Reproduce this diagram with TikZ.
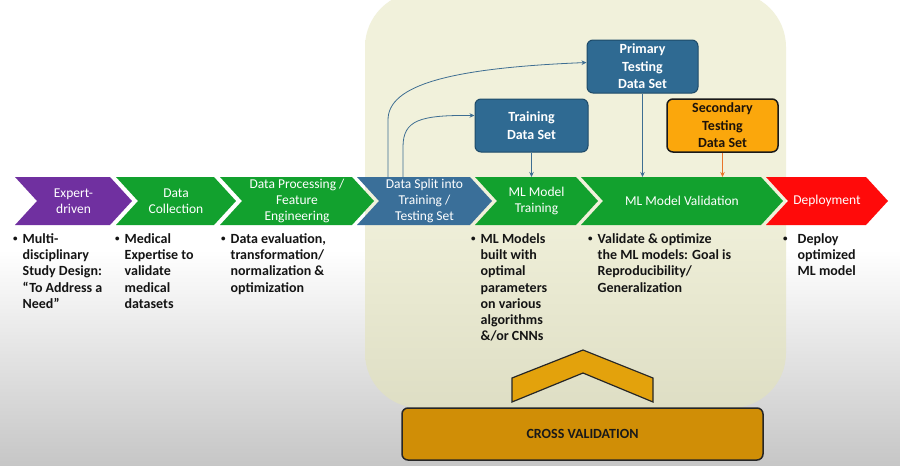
\documentclass[tikz,border=0pt]{standalone}
\usepackage{fontspec}
\setmainfont{Carlito}
\usetikzlibrary{arrows.meta,calc}
\definecolor{purp}{HTML}{7030A0}
\definecolor{grn}{HTML}{12A12E}
\definecolor{blu}{HTML}{3A6F99}
\definecolor{boxblu}{HTML}{2F6A92}
\definecolor{boxbord}{HTML}{1E4A68}
\definecolor{redd}{HTML}{FF0A0A}
\definecolor{panel}{HTML}{F1F1DB}
\definecolor{panelb}{HTML}{DEDEC4}
\definecolor{orng}{HTML}{FBA70C}
\definecolor{gold}{HTML}{E3A20C}
\definecolor{cvfill}{HTML}{D08E06}
\definecolor{arrblu}{HTML}{3E6E92}
\definecolor{arror}{HTML}{E8742A}
\definecolor{bggray}{HTML}{C6C6C6}
\newcommand\smallbul{\raisebox{2.2pt}{\fontsize{9}{9}\selectfont\textbullet}}
\newcommand\blist[2][5pt]{\begin{tabular}[t]{@{}l@{\hspace{#1}}l@{}}\smallbul & #2\end{tabular}}
\tikzset{
  ctext/.style={text=white, align=center, inner sep=0pt, font=\fontsize{13.5}{16}\selectfont},
  bl/.style={anchor=north west, inner sep=0pt, text=black!92, font=\bfseries\fontsize{14}{16.2}\selectfont},
  dbox/.style={draw=boxbord, line width=1pt, fill=boxblu, rounded corners=6pt, text=white, align=center,
    font=\bfseries\fontsize{14}{17.5}\selectfont, minimum height=53pt, inner sep=0pt},
  arr/.style={draw=arrblu, line width=0.8pt, -{Stealth[length=5pt,width=4.5pt]}}
}
\begin{document}
\begin{tikzpicture}[x=1pt,y=-1pt]
\useasboundingbox (0,0) rectangle (900,466);
% background
\fill[white] (0,0) rectangle (900,250);
\shade[top color=white, bottom color=bggray] (0,249.5) rectangle (900,466);
% panel
\shade[top color=panel, bottom color=panelb, middle color=panel, rounded corners=55pt] (365,-8) rectangle (786,408);
% chevrons
\foreach \L/\R/\c in {15/110/purp,116/214/grn,220/352/grn,357/470/blu,475/576/grn,581/761/grn,766/866/redd}{
  \fill[\c] (\L,177) -- (\R,177) -- ++(22,24) -- ++(-22,24) -- (\L,225) -- ++(22,-24) -- cycle;
}
\node[ctext] (c1) at (73.5,201) {Expert-\\driven};
\node[ctext] (c2) at (176,201) {Data\\Collection};
\node[ctext] (c3) at (297,201) {Data Processing /\\Feature\\Engineering};
\node[ctext] (c4) at (424.5,201) {Data Split into\\Training /\\Testing Set};
\node[ctext] (c5) at (536.5,201) {ML Model\\Training};
\node[ctext] (c6) at (682,201) {ML Model Validation};
\node[ctext] (c7) at (827,201) {Deployment};
% tops of chevrons
\coordinate (s1) at (388,177);
\coordinate (s2) at (403,177);
\coordinate (t5) at (536,177);
\coordinate (t6) at (682,177);
% bullet texts
\node[bl] (b1) at (13,232) {\blist{Multi-\\ & disciplinary\\ & Study Design:\\ & “To Address a\\ & Need”}};
\node[bl] (b2) at (115,232) {\blist{Medical\\ & Expertise to\\ & validate\\ & medical\\ & datasets}};
\node[bl] (b3) at (221,232) {\blist{Data evaluation,\\ & transformation/\\ & normalization \&\\ & optimization}};
\node[bl] (b5) at (471,232) {\blist{ML Models\\ & built with\\ & optimal\\ & parameters\\ & on various\\ & algorithms\\ & \&/or CNNs}};
\node[bl] (b6) at (588,232) {\blist{Validate \& optimize\\ & the ML models: Goal is\\ & Reproducibility/\\ & Generalization}};
\node[bl] (b7) at (783,232) {\blist[10pt]{Deploy\\ & optimized\\ & ML model}};
% data set boxes
\node[dbox, minimum width=111pt] (prim) at (642.5,66.5) {Primary\\Testing\\Data Set};
\node[dbox, minimum width=113pt, font=\bfseries\fontsize{14}{18}\selectfont] (train) at (531.5,125.5) {Training\\Data Set};
\node[dbox, minimum width=111pt, draw=black!90, line width=1.5pt, fill=orng, text=black!85!brown] (sec) at (722.5,125.5) {Secondary\\Testing\\Data Set};
% arrows
\draw[arr] (train.south) -- (train.south |- t5);
\draw[arr] (prim.south) -- (prim.south |- t6);
\draw[arr, draw=arror] (sec.south) -- (sec.south |- t6);
\draw[arr] (s1) -- (388,120) .. controls (388,85) and (450,68) .. ([yshift=4pt]prim.west);
\draw[arr] (s2) -- (403,147) .. controls (403,120) and (420,115) .. ([yshift=10pt]train.west);
% cross validation
\draw[fill=gold, draw=black!85, line width=1.2pt, line join=miter] (512,402) -- (512,378) -- (583,350) -- (653,378) -- (653,402) -- (583,373) -- cycle;
\node[draw=black!85, line width=1.5pt, fill=cvfill, rounded corners=6pt, minimum width=361pt, minimum height=52pt,
  font=\bfseries\fontsize{14}{17}\selectfont, text=black!90] (cv) at (582.5,434) {CROSS VALIDATION};
\end{tikzpicture}
\end{document}
